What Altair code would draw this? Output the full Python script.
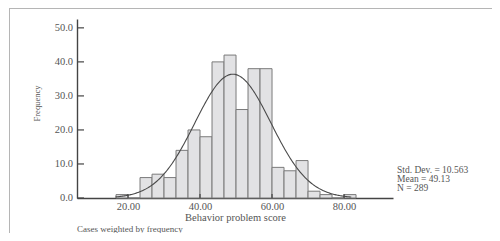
import altair as alt
import numpy as np
import pandas as pd

# Histogram bins (Behavior problem score), width 20/6
bin_start = [16.667, 20.0, 23.333, 26.667, 30.0, 33.333, 36.667, 40.0, 43.333, 46.667,
             50.0, 53.333, 56.667, 60.0, 63.333, 66.667, 70.0, 73.333, 76.667, 80.0]
bin_end = [20.0, 23.333, 26.667, 30.0, 33.333, 36.667, 40.0, 43.333, 46.667, 50.0,
           53.333, 56.667, 60.0, 63.333, 66.667, 70.0, 73.333, 76.667, 80.0, 83.333]
counts = [1, 0, 6, 7, 6, 14, 20, 18, 40, 42, 26, 38, 38, 9, 8, 11, 2, 1, 0, 1]

# Fitted normal curve parameters (stated on the chart)
mean_v = 49.13
sd_v = 10.563
n_v = 289
bin_w = 20.0 / 6

y_ticks = [0, 10, 20, 30, 40, 50]
y_labels = ["0.0", "10.0", "20.0", "30.0", "40.0", "50.0"]
x_ticks = [20, 40, 60, 80]
stats_lines = ["Std. Dev. = 10.563", "Mean = 49.13", "N = 289"]
note_text = ["Cases weighted by frequency"]

FONT = "Liberation Serif"
TXT = "#555555"

bars = pd.DataFrame({"b0": bin_start, "b1": bin_end, "c": counts})
xs = np.arange(16.5, 82.01, 0.25)
curve = pd.DataFrame({"x": xs,
                      "y": n_v * bin_w * np.exp(-0.5 * ((xs - mean_v) / sd_v) ** 2) / (sd_v * np.sqrt(2 * np.pi))})

xscale = alt.Scale(domain=[5.83, 93.6], nice=False, zero=False)
yscale = alt.Scale(domain=[0, 52.6], nice=False)

hist = alt.Chart(bars).mark_rect(fill="#e2e2e4", stroke="#7a7a7a", strokeWidth=1).encode(
    x=alt.X("b0:Q", scale=xscale,
            axis=alt.Axis(values=x_ticks, format=".2f", ticks=False, grid=False,
                          domainColor="#444444", domainWidth=1.4, labelOverlap=False,
                          labelFont=FONT, labelFontSize=10.5, labelColor=TXT, labelPadding=3,
                          title="Behavior problem score", titleFont=FONT, titleFontSize=10.5,
                          titleFontWeight="normal", titleColor=TXT, titleY=22,
                          titleBaseline="alphabetic")),
    x2="b1:Q",
    y=alt.Y("c:Q", scale=yscale,
            axis=alt.Axis(values=y_ticks, ticks=False, grid=False, labels=False,
                          domainColor="#444444", domainWidth=1.4,
                          title="Frequency", titleFont=FONT, titleFontSize=8.5,
                          titleFontWeight="normal", titleColor=TXT, titleX=-36, titleY=84)),
    y2=alt.datum(0),
)

line = alt.Chart(curve).mark_line(color="#4a4a4a", strokeWidth=1.1).encode(
    x=alt.X("x:Q", scale=xscale), y=alt.Y("y:Q", scale=yscale))

ylab_df = pd.DataFrame({"v": y_ticks, "t": y_labels})
yt = alt.Chart(ylab_df).mark_rule(color="#444444", strokeWidth=1.2).encode(
    y=alt.Y("v:Q", scale=yscale), x=alt.value(0), x2=alt.value(7))
ylab = alt.Chart(ylab_df).mark_text(font=FONT, fontSize=10.5, color=TXT, align="right",
                                    baseline="middle").encode(
    y=alt.Y("v:Q", scale=yscale), x=alt.value(-4), text="t:N")
xt = alt.Chart(pd.DataFrame({"v": x_ticks})).mark_rule(color="#444444", strokeWidth=1.2).encode(
    x=alt.X("v:Q", scale=xscale), y=alt.value(179), y2=alt.value(175))

stats = alt.Chart(pd.DataFrame({"t": stats_lines, "yy": [154, 163, 171.5]})).mark_text(
    font=FONT, fontSize=9.5, color=TXT, align="left", baseline="alphabetic").encode(
    text="t:N", x=alt.value(320), y=alt.Y("yy:Q", scale=None, axis=None))

note = alt.Chart(pd.DataFrame({"t": note_text})).mark_text(
    font=FONT, fontSize=9, color=TXT, align="left", baseline="alphabetic").encode(
    text="t:N", x=alt.value(0), y=alt.value(212.5))

frame_h = alt.Chart(pd.DataFrame({"a": [0]})).mark_rule(color="#b5b5b5", strokeWidth=1).encode(
    x=alt.value(-68), x2=alt.value(430), y=alt.value(-10.5))
frame_v = alt.Chart(pd.DataFrame({"a": [0]})).mark_rule(color="#b5b5b5", strokeWidth=1).encode(
    x=alt.value(-67.5), y=alt.value(-10.5), y2=alt.value(240))

chart = alt.layer(frame_h, frame_v, hist, line, yt, ylab, xt, stats, note).properties(
    width=316, height=179,
    autosize=alt.AutoSizeParams(type="none"),
    padding={"left": 69, "top": 11, "right": 99, "bottom": 35},
).configure(background="white").configure_view(stroke=None)

chart.save("out.html", embed_options={"renderer": "svg", "actions": False})
